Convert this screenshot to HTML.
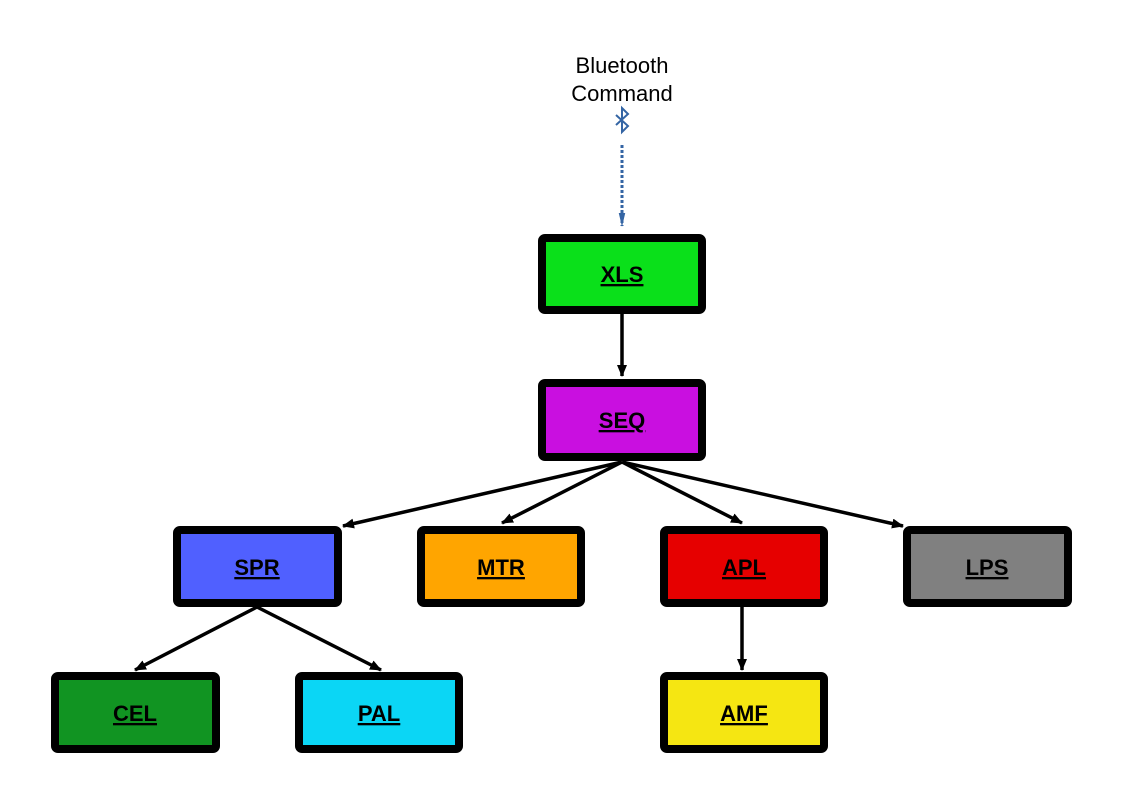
<!DOCTYPE html>
<html><head><style>
html,body{margin:0;padding:0;background:#fff;}
svg{display:block;}
.l{font-family:"Liberation Sans",Arial,sans-serif;font-weight:bold;font-size:22px;text-decoration:underline;}
</style></head><body>
<svg width="1123" height="794" viewBox="0 0 1123 794" xmlns="http://www.w3.org/2000/svg">
<defs>
<marker id="a" markerWidth="12" markerHeight="10" refX="11" refY="5" orient="auto" markerUnits="userSpaceOnUse" viewBox="0 0 12 10">
<path d="M0,0 L12,5 L0,10 Z" fill="#000"/></marker>
<marker id="b" markerWidth="14" markerHeight="30" refX="28" refY="7" orient="auto" markerUnits="userSpaceOnUse" viewBox="0 0 30 14">
<path d="M0,0 L30,7 L0,14 Z" fill="#3465a4"/></marker>
</defs>
<text x="622" y="73" text-anchor="middle" font-family="Liberation Sans,Arial,sans-serif" font-size="22">Bluetooth</text>
<text x="622" y="101" text-anchor="middle" font-family="Liberation Sans,Arial,sans-serif" font-size="22">Command</text>
<path d="M616,115 L628,126 L622,132 L622,108 L628,114 L616,125" fill="none" stroke="#3465a4" stroke-width="2"/>
<line x1="622" y1="145" x2="622" y2="226" stroke="#3465a4" stroke-width="3" stroke-dasharray="3,2" marker-end="url(#b)"/>
<g stroke="#000" stroke-width="3.5" fill="none">
<line x1="622" y1="314" x2="622" y2="376" marker-end="url(#a)"/>
<line x1="622" y1="462" x2="343" y2="526" marker-end="url(#a)"/>
<line x1="622" y1="462" x2="502" y2="523" marker-end="url(#a)"/>
<line x1="622" y1="462" x2="742" y2="523" marker-end="url(#a)"/>
<line x1="622" y1="462" x2="903" y2="526" marker-end="url(#a)"/>
<line x1="257" y1="607" x2="135" y2="670" marker-end="url(#a)"/>
<line x1="257" y1="607" x2="381" y2="670" marker-end="url(#a)"/>
<line x1="742" y1="607" x2="742" y2="670" marker-end="url(#a)"/>
</g>
<g stroke="#000" stroke-width="8">
<rect x="542" y="238" width="160" height="72" rx="3" fill="#0ae01a"/>
<rect x="542" y="383" width="160" height="74" rx="3" fill="#c90fe0"/>
<rect x="177" y="530" width="161" height="73" rx="3" fill="#5060ff"/>
<rect x="421" y="530" width="160" height="73" rx="3" fill="#ffa500"/>
<rect x="664" y="530" width="160" height="73" rx="3" fill="#e60000"/>
<rect x="907" y="530" width="161" height="73" rx="3" fill="#808080"/>
<rect x="55" y="676" width="161" height="73" rx="3" fill="#119422"/>
<rect x="299" y="676" width="160" height="73" rx="3" fill="#0bd6f5"/>
<rect x="664" y="676" width="160" height="73" rx="3" fill="#f5e612"/>
</g>
<g text-anchor="middle" class="l">
<text x="622" y="282" class="l">XLS</text>
<text x="622" y="428" class="l">SEQ</text>
<text x="257" y="575" class="l">SPR</text>
<text x="501" y="575" class="l">MTR</text>
<text x="744" y="575" class="l">APL</text>
<text x="987" y="575" class="l">LPS</text>
<text x="135" y="721" class="l">CEL</text>
<text x="379" y="721" class="l">PAL</text>
<text x="744" y="721" class="l">AMF</text>
</g>
</svg>
</body></html>
